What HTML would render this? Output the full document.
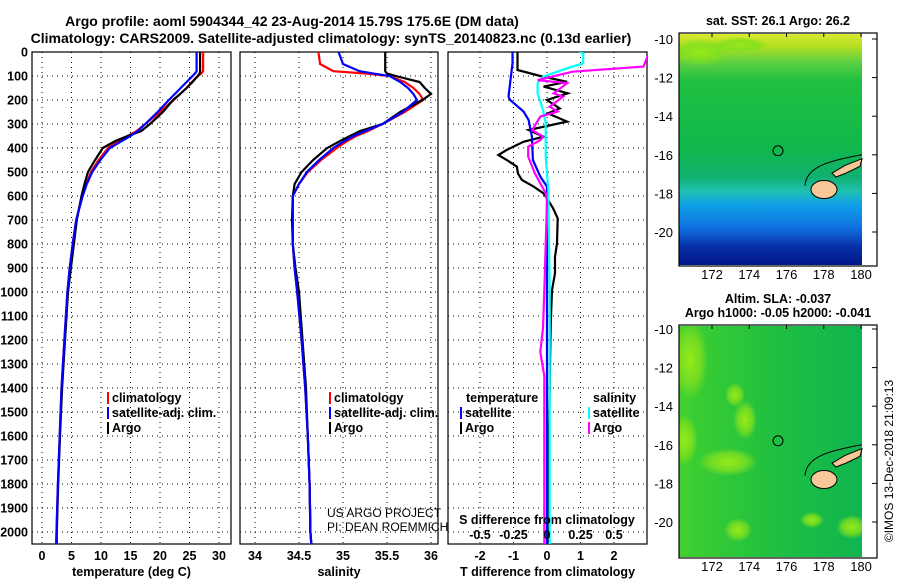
<!DOCTYPE html>
<html><head><meta charset="utf-8">
<style>
html,body{margin:0;padding:0;background:#fff;}
svg{display:block;font-family:"Liberation Sans",Arial,sans-serif;}
.b{font-weight:bold;font-size:12.5px;}
.t{font-weight:bold;font-size:14px;}
.grid{stroke:#000;stroke-width:1;stroke-dasharray:1,4;}
</style></head>
<body>
<svg id="chart" width="900" height="580" viewBox="0 0 900 580">
<defs>
<linearGradient id="sstg" x1="0" y1="0" x2="0" y2="1">
<stop offset="0" stop-color="#d8e830"/><stop offset="0.05" stop-color="#b8e020"/>
<stop offset="0.12" stop-color="#60d040"/><stop offset="0.2" stop-color="#20c040"/>
<stop offset="0.5" stop-color="#10b84c"/><stop offset="0.62" stop-color="#10b070"/>
<stop offset="0.68" stop-color="#20c0b0"/><stop offset="0.74" stop-color="#10a0e8"/>
<stop offset="0.84" stop-color="#1070e0"/><stop offset="0.92" stop-color="#0830a8"/>
<stop offset="1" stop-color="#001888"/></linearGradient>
<radialGradient id="patch"><stop offset="0" stop-color="#98ea18"/><stop offset="0.6" stop-color="#80e020" stop-opacity="0.8"/><stop offset="1" stop-color="#80e020" stop-opacity="0"/></radialGradient>
<linearGradient id="slag" x1="0" y1="0" x2="1" y2="0">
<stop offset="0" stop-color="#40d030"/><stop offset="0.5" stop-color="#20c040"/><stop offset="1" stop-color="#10b450"/></linearGradient>
</defs>
<text class="t" x="292" y="26" text-anchor="middle" font-size="14.5">Argo profile: aoml 5904344_42 23-Aug-2014 15.79S 175.6E (DM data)</text>
<text class="t" x="331" y="43" text-anchor="middle">Climatology: CARS2009. Satellite-adjusted climatology: synTS_20140823.nc (0.13d earlier)</text>
<g id="panels"></g>
<g id="maps"></g>
<text x="893" y="461" transform="rotate(-90 893 461)" text-anchor="middle" font-size="12">©IMOS 13-Dec-2018 21:09:13</text>
</svg>
<script>
// depth grid shared by profiles
const depths = [0,50,80,90,100,125,150,175,200,250,300,330,350,370,400,450,500,550,600,700,800,900,1000,1200,1400,1600,1800,2000,2050];
// temperature (deg C)
const tClim = [27.3,27.3,27.3,27.0,26.4,25.4,24.5,23.4,22.3,20.0,17.5,16.0,14.5,13.0,11.2,9.6,8.3,7.5,6.8,5.8,5.2,4.7,4.3,3.8,3.3,3.0,2.7,2.45,2.4];
const tSat  = [26.2,26.2,26.2,25.9,25.5,24.5,23.5,22.5,21.5,19.6,17.5,16.2,15.0,13.6,11.5,9.9,8.5,7.6,6.9,5.8,5.2,4.7,4.3,3.8,3.3,3.0,2.7,2.45,2.4];
const tArgo = [26.8,26.8,26.8,26.7,26.4,25.5,24.5,23.4,22.2,20.5,18.3,16.8,14.5,12.5,10.3,9.0,7.8,7.2,6.7,5.9,5.4,4.9,4.4,3.9,3.4,3.05,2.75,2.5,2.5];
// salinity
const sClim = [34.72,34.74,34.89,35.27,35.53,35.70,35.80,35.87,35.91,35.70,35.45,35.28,35.15,35.05,34.93,34.75,34.60,34.50,34.43,34.43,34.43,34.45,34.48,34.53,34.57,34.60,34.62,34.63,34.64];
const sSat  = [34.95,35.00,35.19,35.35,35.53,35.65,35.74,35.80,35.84,35.68,35.45,35.25,35.12,35.02,34.89,34.73,34.59,34.50,34.43,34.43,34.43,34.45,34.48,34.53,34.57,34.60,34.62,34.63,34.64];
const sArgo = [35.48,35.48,35.48,35.50,35.60,35.87,35.93,36.00,35.90,35.65,35.45,35.19,35.08,34.97,34.82,34.66,34.53,34.45,34.43,34.42,34.43,34.46,34.50,34.54,34.58,34.60,34.62,34.63,34.64];
// T differences
const dTSatD  = [0,47,186,200,248,283,353,450,519,561,1000,2050];
const dTSat   = [-1.03,-1.03,-1.15,-1.1,-0.7,-0.55,-0.45,-0.42,-0.2,0,0,0];
const dTArgoD = [0,75,100,124,144,172,200,235,256,290,325,353,374,408,429,450,478,506,533,561,589,610,651,693,797,853,922,992,1100,1200,1400,1600,1800,2050];
const dTArgo  = [-0.88,-0.88,-0.2,0.6,-0.1,0.62,0,0.38,0.03,0.6,-0.55,-0.1,-0.7,-1.2,-1.45,-1.2,-0.9,-0.87,-0.75,-0.4,-0.1,0,0.18,0.32,0.3,0.24,0.24,0.15,0.12,0.1,0.08,0.06,0.06,0.05];
// S differences
const dSSatD  = [0,6,47,68,103,130,172,242,297,436,575,1000,2050];
const dSSat   = [0.24,0.27,0.27,0.15,-0.03,-0.07,-0.07,-0.03,-0.01,-0.01,0.01,0.02,0.02];
const dSArgoD = [0,6,61,82,117,130,172,186,228,248,269,325,353,367,394,436,506,589,620,1000,1150,1250,1350,1600,2050];
const dSArgo  = [0.76,0.76,0.72,0.19,-0.07,0.15,0.05,0.12,0.02,0.08,-0.05,-0.11,-0.03,-0.05,-0.14,-0.14,-0.09,-0.01,0,-0.02,-0.03,-0.05,-0.02,-0.02,-0.02];
const tTicks = [0,5,10,15,20,25,30];
const sTicks = [34,34.5,35,35.5,36];
const dTTicks = [-2,-1,0,1,2];
const dSTicks = [-0.5,-0.25,0,0.25,0.5];
const dSTickLabels = ['-0.5','-0.25','0','0.25','0.5'];
const depthTicks = [0,100,200,300,400,500,600,700,800,900,1000,1100,1200,1300,1400,1500,1600,1700,1800,1900,2000];
const mapLats = [-10,-12,-14,-16,-18,-20];
const mapLons = [172,174,176,178,180];

const NS='http://www.w3.org/2000/svg';
const top0=52, bot0=544;
const yD = d => top0 + d*0.24;
const xT = v => 42 + v*5.9;
const xS = v => 255 + (v-34)*88;
const xDT = v => 547 + v*33.5;
const xDS = v => 547 + v*134;
function mk(tag, attrs, parent){const e=document.createElementNS(NS,tag);for(const k in attrs)e.setAttribute(k,attrs[k]);parent.appendChild(e);return e;}
const P=document.getElementById('panels');

function panel(name,x0,x1,xs,ticks,labels,xlabel,showDepth){
  const g=mk('g',{},P);
  
  
  depthTicks.forEach(d=>{
    if(d>0) mk('line',{x1:x0,x2:x1,y1:yD(d),y2:yD(d),class:'grid'},g);
    if(showDepth){const t=mk('text',{x:x0-4,y:yD(d)+4.5,'text-anchor':'end',class:'b'},g);t.textContent=d;
      
      }
  });
  ticks.forEach((v,i)=>{
    mk('line',{x1:xs(v),x2:xs(v),y1:top0,y2:bot0,class:'grid'},g);
    const t=mk('text',{x:xs(v),y:560,'text-anchor':'middle',class:'b'},g);t.textContent=labels[i];
    
    
  });
  mk('rect',{x:x0,y:top0,width:x1-x0,height:bot0-top0,fill:'none',stroke:'#000','stroke-width':1.2},g);
  const xl=mk('text',{x:(x0+x1)/2,y:576,'text-anchor':'middle',class:'b'},g);xl.textContent=xlabel;
  
  
  const cp=mk('clipPath',{id:'cp'+x0},g);mk('rect',{x:x0,y:top0,width:x1-x0,height:bot0-top0},cp);
  return g;
}
function line(g,xs,ds,vs,color,name,clip){
  const pts=ds.map((d,i)=>xs(vs[i]).toFixed(1)+','+yD(d).toFixed(1)).join(' ');
  const p=mk('polyline',{points:pts,fill:'none',stroke:color,'stroke-width':2.2,'clip-path':'url(#cp'+clip+')'},g);
  
  
}
function legend(g,x,y,items){
  items.forEach((it,i)=>{
    mk('rect',{x:x,y:y+i*15-10,width:2,height:12,fill:it[1]},g);
    const t=mk('text',{x:x+5,y:y+i*15,class:'b'},g);t.textContent=it[0];
    
    
  });
}
// panel 1
const g1=panel('temperature-panel',32,231,xT,tTicks,tTicks.map(String),'temperature (deg C)',true);
line(g1,xT,depths,tClim,'#f00','temp-climatology-line',32);
line(g1,xT,depths,tArgo,'#000','temp-argo-line',32);
line(g1,xT,depths,tSat,'#00f','temp-satellite-line',32);
legend(g1,107,402,[['climatology','#f00'],['satellite-adj. clim.','#00f'],['Argo','#000']]);
// panel 2
const g2=panel('salinity-panel',240,438,xS,sTicks,['34','34.5','35','35.5','36'],'salinity',false);
line(g2,xS,depths,sClim,'#f00','sal-climatology-line',240);
line(g2,xS,depths,sArgo,'#000','sal-argo-line',240);
line(g2,xS,depths,sSat,'#00f','sal-satellite-line',240);
legend(g2,329,402,[['climatology','#f00'],['satellite-adj. clim.','#00f'],['Argo','#000']]);
[['US ARGO PROJECT',517],['PI: DEAN ROEMMICH',531]].forEach(a=>{const t=mk('text',{x:327,y:a[1],'font-size':12},g2);t.textContent=a[0];
  
  });
// panel 3
const g3=panel('difference-panel',448,647,xDT,dTTicks,dTTicks.map(String),'T difference from climatology',false);
line(g3,xDT,dTArgoD,dTArgo,'#000','t-diff-argo-line',448);
line(g3,xDT,dTSatD,dTSat,'#00f','t-diff-satellite-line',448);
line(g3,xDS,dSSatD,dSSat,'#0ff','s-diff-satellite-line',448);
line(g3,xDS,dSArgoD,dSArgo,'#f0f','s-diff-argo-line',448);
const lt=mk('text',{x:466,y:402,class:'b'},g3);lt.textContent='temperature';
const ls=mk('text',{x:593,y:402,class:'b'},g3);ls.textContent='salinity';
legend(g3,460,417,[['satellite','#00f'],['Argo','#000']]);
legend(g3,588,417,[['satellite','#0ff'],['Argo','#f0f']]);
const st=mk('text',{x:547,y:524,'text-anchor':'middle',class:'b'},g3);st.textContent='S difference from climatology';


dSTicks.forEach((v,i)=>{const t=mk('text',{x:xDS(v),y:539,'text-anchor':'middle',class:'b'},g3);t.textContent=dSTickLabels[i];
  
  });

// maps
const M=document.getElementById('maps');
function map(name,top,lat10,lat20,title,fill,patches){
  const g=mk('g',{},M);
  
  
  const yL=l=>lat10+(-10-l)*(lat20-lat10)/10;
  const xL=l=>712+(l-172)*18.63;
  const bottom=top+233;
  const cp=mk('clipPath',{id:'mc'+top},g);mk('rect',{x:679,y:top+1,width:183,height:231},cp);
  const inner=mk('g',{'clip-path':'url(#mc'+top+')'},g);
  mk('rect',{x:679,y:top+1,width:183,height:231,fill:fill},inner);
  patches.forEach(p=>mk('ellipse',{cx:p[0],cy:p[1],rx:p[2],ry:p[3],fill:'url(#patch)'},inner));
  title.forEach((s,i)=>{const t=mk('text',{x:778,y:top-(title.length-1-i)*14-8,'text-anchor':'middle',class:'b','font-size':12},g);t.textContent=s;
    
    });
  // islands
  mk('path',{d:`M805,${yL(-17.6)} C806,${yL(-16.6)} 830,${yL(-16.3)} 862,${yL(-16.0)}`,fill:'none',stroke:'#000','stroke-width':1},g);
  mk('path',{d:`M832,${yL(-16.95)} L845,${yL(-16.55)} L862,${yL(-16.2)} L860,${yL(-16.6)} L846,${yL(-16.95)} L836,${yL(-17.15)} Z`,fill:'#f8c898',stroke:'#000','stroke-width':1},g);
  mk('ellipse',{cx:824,cy:yL(-17.8),rx:13,ry:9,fill:'#f8c898',stroke:'#000','stroke-width':1},g);
  mk('circle',{cx:778,cy:yL(-15.79),r:5,fill:'none',stroke:'#000','stroke-width':1},g);
  mk('rect',{x:679,y:top,width:198,height:233,fill:'none',stroke:'#000','stroke-width':1.2},g);
  mapLats.forEach(l=>{mk('line',{x1:872,x2:877,y1:yL(l),y2:yL(l),stroke:'#000'},g);
    const t=mk('text',{x:673,y:yL(l)+5,'text-anchor':'end','font-size':13},g);t.textContent=l;
    
    });
  mapLons.forEach(l=>{mk('line',{x1:xL(l),x2:xL(l),y1:top,y2:top+4,stroke:'#000'},g);
    const t=mk('text',{x:xL(l),y:bottom+13,'text-anchor':'middle','font-size':13},g);t.textContent=l;
    
    });
}
map('sst-map',33,39,232,['sat. SST: 26.1 Argo: 26.2'],'url(#sstg)',[[700,52,30,14],[740,45,30,8]]);
map('sla-map',325,329,522,['Altim. SLA: -0.037','Argo h1000: -0.05 h2000: -0.041'],'url(#slag)',
  [[684,440,14,26],[690,360,18,40],[728,462,30,14],[745,420,12,20],[738,530,14,12],[812,520,12,8],[852,527,16,12],[735,395,10,12]]);
</script>
</body></html>
